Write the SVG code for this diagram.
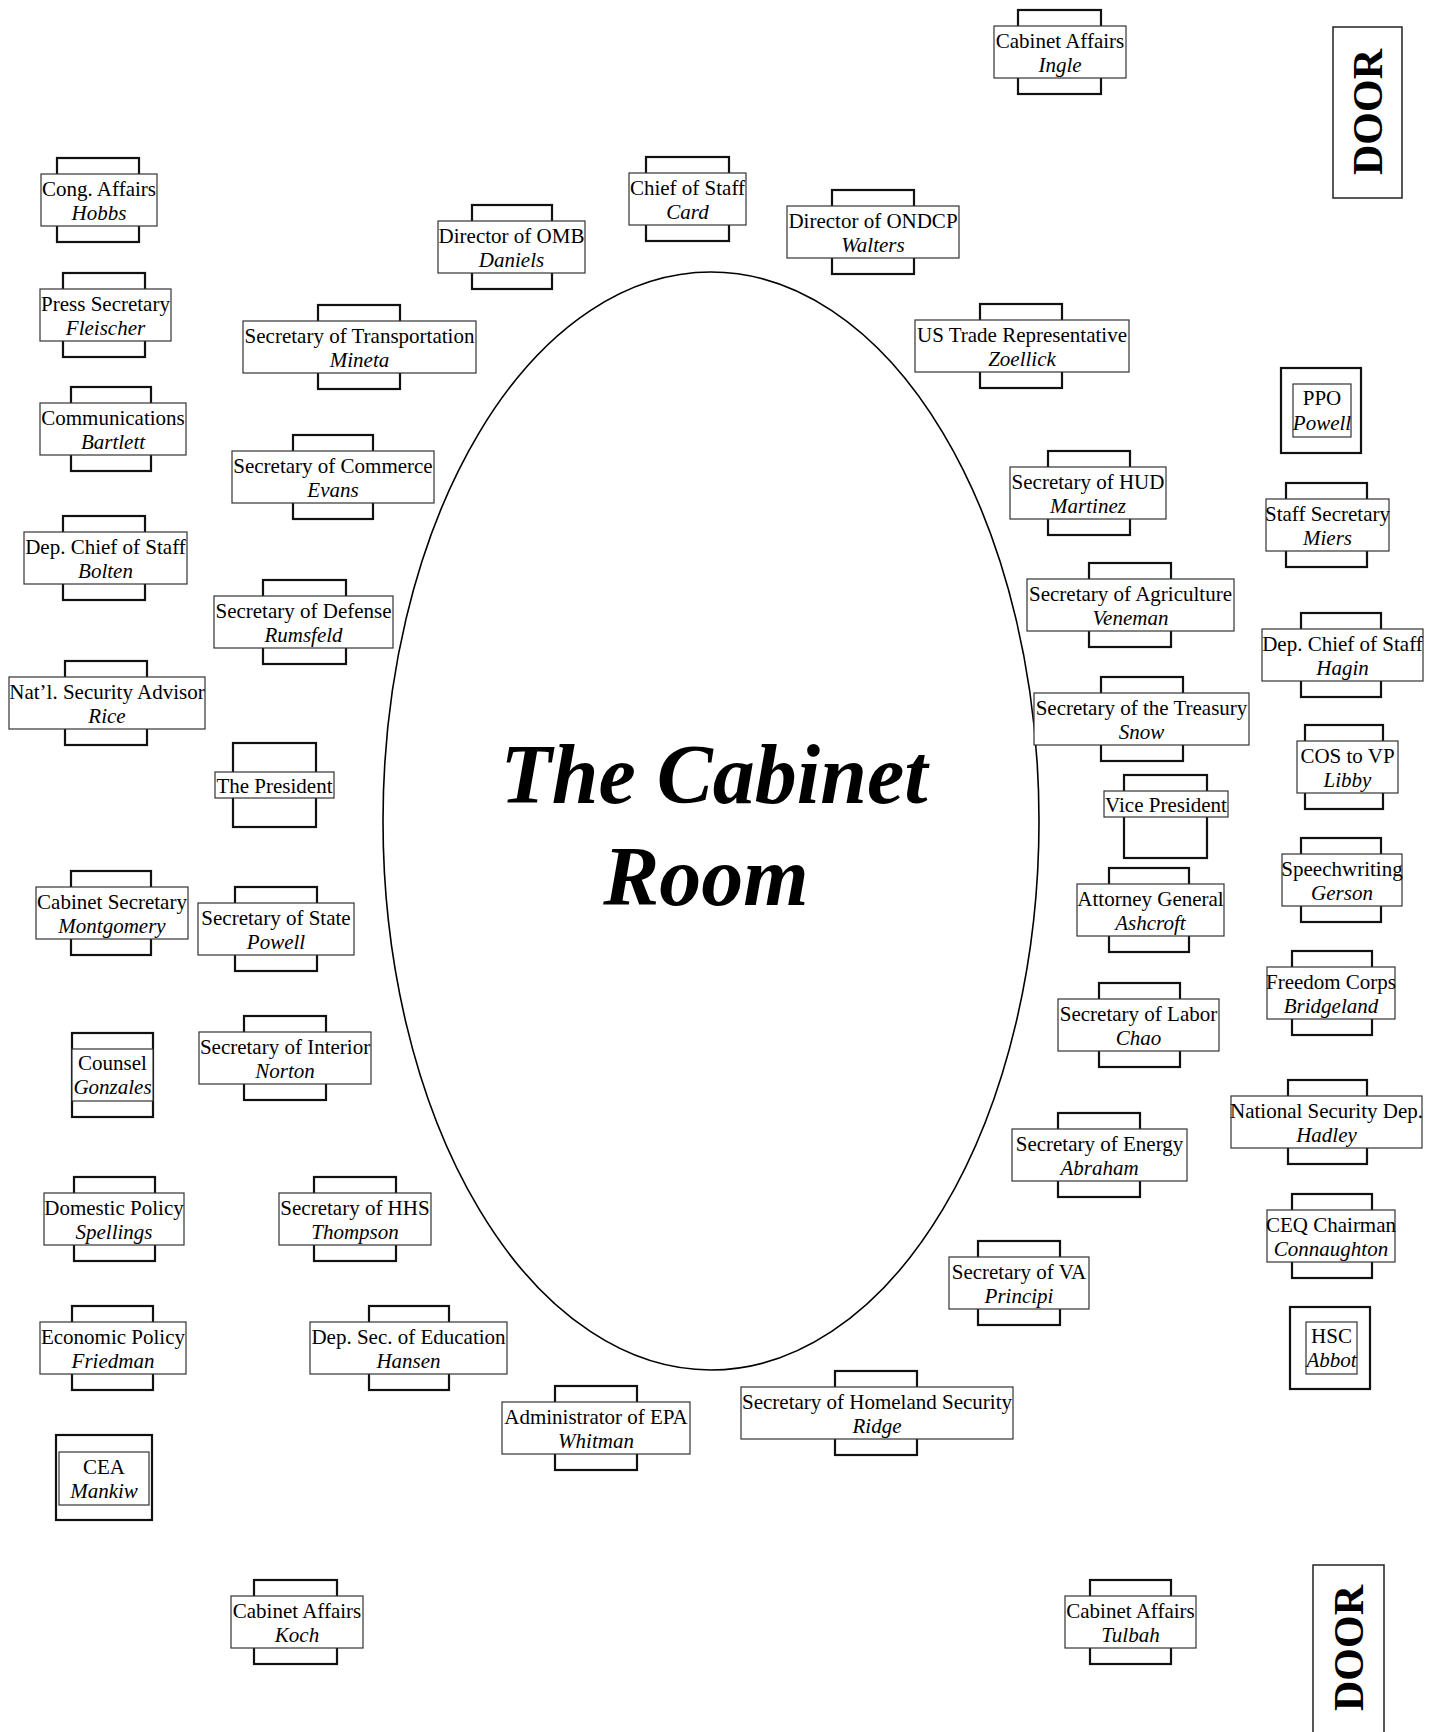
<svg xmlns="http://www.w3.org/2000/svg" width="1429" height="1732" viewBox="0 0 1429 1732">
<style>
.c{fill:#fff;stroke:#111;stroke-width:2.2}
.l{fill:#fff;stroke:#333;stroke-width:1.2}
.t{font-family:"Liberation Serif","Times New Roman",serif;font-size:21px;text-anchor:middle;fill:#000}
.i{font-style:italic}
.door{font-family:"Liberation Serif","Times New Roman",serif;font-size:42px;font-weight:bold;text-anchor:middle;fill:#000}
.title{font-family:"Liberation Serif","Times New Roman",serif;font-size:84px;font-weight:bold;font-style:italic;text-anchor:middle;fill:#000}
</style>
<rect x="0" y="0" width="1429" height="1732" fill="#fff"/>
<g id="room">
<ellipse cx="711" cy="821" rx="328" ry="549" fill="none" stroke="#000" stroke-width="1.6"/>
<text class="title" x="714" y="803">The Cabinet</text>
<text class="title" x="706" y="905">Room</text>
</g>
<g id="door-top"><rect x="1333" y="27" width="69" height="171" fill="#fff" stroke="#222" stroke-width="1.5"/><text class="door" transform="translate(1382,112) rotate(-90)">DOOR</text></g>
<g id="door-bottom"><rect x="1313" y="1565" width="71" height="180" fill="#fff" stroke="#222" stroke-width="1.5"/><text class="door" transform="translate(1363,1648) rotate(-90)">DOOR</text></g>

<g id="n-ingle"><rect class="c" x="1018" y="10" width="83" height="84"/><rect class="l" x="994" y="26" width="132" height="52"/><text class="t" x="1060" y="48">Cabinet Affairs</text><text class="t i" x="1060" y="72">Ingle</text></g>
<g id="n-hobbs"><rect class="c" x="57" y="158" width="82" height="84"/><rect class="l" x="41" y="174" width="116" height="52"/><text class="t" x="99" y="196">Cong. Affairs</text><text class="t i" x="99" y="220">Hobbs</text></g>
<g id="n-card"><rect class="c" x="646" y="157" width="83" height="84"/><rect class="l" x="629" y="173" width="117" height="52"/><text class="t" x="687.5" y="195">Chief of Staff</text><text class="t i" x="687.5" y="219">Card</text></g>
<g id="n-daniels"><rect class="c" x="472" y="205" width="80" height="84"/><rect class="l" x="438" y="221" width="147" height="52"/><text class="t" x="511.5" y="243">Director of OMB</text><text class="t i" x="511.5" y="267">Daniels</text></g>
<g id="n-walters"><rect class="c" x="832" y="190" width="82" height="84"/><rect class="l" x="787" y="206" width="172" height="52"/><text class="t" x="873" y="228">Director of ONDCP</text><text class="t i" x="873" y="252">Walters</text></g>
<g id="n-fleischer"><rect class="c" x="63" y="273" width="82" height="84"/><rect class="l" x="40" y="289" width="131" height="52"/><text class="t" x="105.5" y="311">Press Secretary</text><text class="t i" x="105.5" y="335">Fleischer</text></g>
<g id="n-mineta"><rect class="c" x="318" y="305" width="82" height="84"/><rect class="l" x="243" y="321" width="233" height="52"/><text class="t" x="359.5" y="343">Secretary of Transportation</text><text class="t i" x="359.5" y="367">Mineta</text></g>
<g id="n-zoellick"><rect class="c" x="980" y="304" width="82" height="84"/><rect class="l" x="915" y="320" width="214" height="52"/><text class="t" x="1022" y="342">US Trade Representative</text><text class="t i" x="1022" y="366">Zoellick</text></g>
<g id="n-bartlett"><rect class="c" x="71" y="387" width="80" height="84"/><rect class="l" x="40" y="403" width="146" height="52"/><text class="t" x="113" y="425">Communications</text><text class="t i" x="113" y="449">Bartlett</text></g>
<g id="n-ppo"><rect class="c" x="1281" y="368" width="80" height="85"/><rect class="l" x="1293" y="384" width="58" height="53"/><text class="t" x="1322" y="405">PPO</text><text class="t i" x="1322" y="430">Powell</text></g>
<g id="n-evans"><rect class="c" x="293" y="435" width="80" height="84"/><rect class="l" x="232" y="451" width="202" height="52"/><text class="t" x="333" y="473">Secretary of Commerce</text><text class="t i" x="333" y="497">Evans</text></g>
<g id="n-martinez"><rect class="c" x="1048" y="451" width="82" height="84"/><rect class="l" x="1010" y="467" width="156" height="52"/><text class="t" x="1088" y="489">Secretary of HUD</text><text class="t i" x="1088" y="513">Martinez</text></g>
<g id="n-miers"><rect class="c" x="1286" y="483" width="81" height="84"/><rect class="l" x="1266" y="499" width="123" height="52"/><text class="t" x="1327.5" y="521">Staff Secretary</text><text class="t i" x="1327.5" y="545">Miers</text></g>
<g id="n-bolten"><rect class="c" x="63" y="516" width="82" height="84"/><rect class="l" x="24" y="532" width="163" height="52"/><text class="t" x="105.5" y="554">Dep. Chief of Staff</text><text class="t i" x="105.5" y="578">Bolten</text></g>
<g id="n-rumsfeld"><rect class="c" x="263" y="580" width="83" height="84"/><rect class="l" x="214" y="596" width="179" height="52"/><text class="t" x="303.5" y="618">Secretary of Defense</text><text class="t i" x="303.5" y="642">Rumsfeld</text></g>
<g id="n-veneman"><rect class="c" x="1089" y="563" width="82" height="84"/><rect class="l" x="1027" y="579" width="207" height="52"/><text class="t" x="1130.5" y="601">Secretary of Agriculture</text><text class="t i" x="1130.5" y="625">Veneman</text></g>
<g id="n-hagin"><rect class="c" x="1301" y="613" width="80" height="84"/><rect class="l" x="1262" y="629" width="161" height="52"/><text class="t" x="1342.5" y="651">Dep. Chief of Staff</text><text class="t i" x="1342.5" y="675">Hagin</text></g>
<g id="n-rice"><rect class="c" x="65" y="661" width="82" height="84"/><rect class="l" x="9" y="677" width="196" height="52"/><text class="t" x="107" y="699">Nat’l. Security Advisor</text><text class="t i" x="107" y="723">Rice</text></g>
<g id="n-snow"><rect class="c" x="1101" y="677" width="82" height="84"/><rect class="l" x="1034" y="693" width="215" height="52"/><text class="t" x="1141.5" y="715">Secretary of the Treasury</text><text class="t i" x="1141.5" y="739">Snow</text></g>
<g id="n-libby"><rect class="c" x="1305" y="725" width="78" height="84"/><rect class="l" x="1297" y="741" width="101" height="52"/><text class="t" x="1347.5" y="763">COS to VP</text><text class="t i" x="1347.5" y="787">Libby</text></g>
<g id="n-president"><rect class="c" x="233" y="743" width="83" height="84"/><rect class="l" x="215" y="772" width="119" height="26"/><text class="t" x="274.5" y="793">The President</text></g>
<g id="n-vp"><rect class="c" x="1124" y="775" width="83" height="83"/><rect class="l" x="1104" y="791" width="124" height="26"/><text class="t" x="1166" y="812">Vice President</text></g>
<g id="n-montgomery"><rect class="c" x="71" y="871" width="80" height="84"/><rect class="l" x="36" y="887" width="152" height="52"/><text class="t" x="112" y="909">Cabinet Secretary</text><text class="t i" x="112" y="933">Montgomery</text></g>
<g id="n-powell"><rect class="c" x="235" y="887" width="82" height="84"/><rect class="l" x="198" y="903" width="156" height="52"/><text class="t" x="276" y="925">Secretary of State</text><text class="t i" x="276" y="949">Powell</text></g>
<g id="n-gerson"><rect class="c" x="1301" y="838" width="80" height="84"/><rect class="l" x="1282" y="854" width="120" height="52"/><text class="t" x="1342" y="876">Speechwriting</text><text class="t i" x="1342" y="900">Gerson</text></g>
<g id="n-ashcroft"><rect class="c" x="1109" y="868" width="80" height="84"/><rect class="l" x="1077" y="884" width="147" height="52"/><text class="t" x="1150.5" y="906">Attorney General</text><text class="t i" x="1150.5" y="930">Ashcroft</text></g>
<g id="n-bridgeland"><rect class="c" x="1292" y="951" width="80" height="84"/><rect class="l" x="1267" y="967" width="128" height="52"/><text class="t" x="1331" y="989">Freedom Corps</text><text class="t i" x="1331" y="1013">Bridgeland</text></g>
<g id="n-chao"><rect class="c" x="1099" y="983" width="81" height="84"/><rect class="l" x="1058" y="999" width="161" height="52"/><text class="t" x="1138.5" y="1021">Secretary of Labor</text><text class="t i" x="1138.5" y="1045">Chao</text></g>
<g id="n-gonzales"><rect class="c" x="72" y="1033" width="81" height="84"/><rect class="l" x="72" y="1049" width="81" height="52"/><text class="t" x="112.5" y="1070">Counsel</text><text class="t i" x="112.5" y="1094">Gonzales</text></g>
<g id="n-norton"><rect class="c" x="244" y="1016" width="82" height="84"/><rect class="l" x="199" y="1032" width="172" height="52"/><text class="t" x="285" y="1054">Secretary of Interior</text><text class="t i" x="285" y="1078">Norton</text></g>
<g id="n-hadley"><rect class="c" x="1288" y="1080" width="79" height="84"/><rect class="l" x="1231" y="1096" width="191" height="52"/><text class="t" x="1326.5" y="1118">National Security Dep.</text><text class="t i" x="1326.5" y="1142">Hadley</text></g>
<g id="n-abraham"><rect class="c" x="1058" y="1113" width="82" height="84"/><rect class="l" x="1012" y="1129" width="175" height="52"/><text class="t" x="1099.5" y="1151">Secretary  of Energy</text><text class="t i" x="1099.5" y="1175">Abraham</text></g>
<g id="n-spellings"><rect class="c" x="74" y="1177" width="81" height="84"/><rect class="l" x="44" y="1193" width="140" height="52"/><text class="t" x="114" y="1215">Domestic Policy</text><text class="t i" x="114" y="1239">Spellings</text></g>
<g id="n-thompson"><rect class="c" x="314" y="1177" width="82" height="84"/><rect class="l" x="279" y="1193" width="152" height="52"/><text class="t" x="355" y="1215">Secretary of HHS</text><text class="t i" x="355" y="1239">Thompson</text></g>
<g id="n-connaughton"><rect class="c" x="1292" y="1194" width="80" height="84"/><rect class="l" x="1267" y="1210" width="128" height="52"/><text class="t" x="1331" y="1232">CEQ Chairman</text><text class="t i" x="1331" y="1256">Connaughton</text></g>
<g id="n-principi"><rect class="c" x="978" y="1241" width="82" height="84"/><rect class="l" x="949" y="1257" width="140" height="52"/><text class="t" x="1019" y="1279">Secretary of VA</text><text class="t i" x="1019" y="1303">Principi</text></g>
<g id="n-abbot"><rect class="c" x="1290" y="1307" width="80" height="82"/><rect class="l" x="1306" y="1322" width="51" height="52"/><text class="t" x="1331.5" y="1343">HSC</text><text class="t i" x="1331.5" y="1367">Abbot</text></g>
<g id="n-friedman"><rect class="c" x="72" y="1306" width="81" height="84"/><rect class="l" x="40" y="1322" width="146" height="52"/><text class="t" x="113" y="1344">Economic Policy</text><text class="t i" x="113" y="1368">Friedman</text></g>
<g id="n-hansen"><rect class="c" x="369" y="1306" width="80" height="84"/><rect class="l" x="310" y="1322" width="197" height="52"/><text class="t" x="408.5" y="1344">Dep. Sec. of Education</text><text class="t i" x="408.5" y="1368">Hansen</text></g>
<g id="n-whitman"><rect class="c" x="555" y="1386" width="82" height="84"/><rect class="l" x="502" y="1402" width="188" height="52"/><text class="t" x="596" y="1424">Administrator of EPA</text><text class="t i" x="596" y="1448">Whitman</text></g>
<g id="n-ridge"><rect class="c" x="835" y="1371" width="82" height="84"/><rect class="l" x="741" y="1387" width="272" height="52"/><text class="t" x="877" y="1409">Secretary of Homeland Security</text><text class="t i" x="877" y="1433">Ridge</text></g>
<g id="n-mankiw"><rect class="c" x="56" y="1435" width="96" height="85"/><rect class="l" x="59" y="1452" width="90" height="53"/><text class="t" x="104" y="1474">CEA</text><text class="t i" x="104" y="1498">Mankiw</text></g>
<g id="n-koch"><rect class="c" x="254" y="1580" width="83" height="84"/><rect class="l" x="231" y="1596" width="132" height="52"/><text class="t" x="297" y="1618">Cabinet Affairs</text><text class="t i" x="297" y="1642">Koch</text></g>
<g id="n-tulbah"><rect class="c" x="1090" y="1580" width="81" height="84"/><rect class="l" x="1065" y="1596" width="131" height="52"/><text class="t" x="1130.5" y="1618">Cabinet Affairs</text><text class="t i" x="1130.5" y="1642">Tulbah</text></g>
</svg>
